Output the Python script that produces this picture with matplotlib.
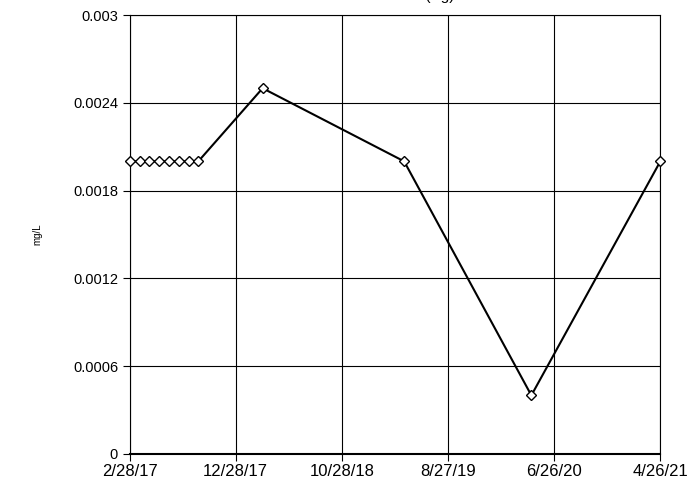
import matplotlib
matplotlib.use("Agg")
import matplotlib.pyplot as plt
from datetime import datetime as dt

plt.rcParams['font.family'] = ['Liberation Sans', 'DejaVu Sans']

# sample dates and results
dates = ["2017-02-28", "2017-03-28", "2017-04-25", "2017-05-23", "2017-06-20",
         "2017-07-18", "2017-08-15", "2017-09-12", "2018-03-15", "2019-04-24",
         "2020-04-22", "2021-04-26"]
values = [0.002, 0.002, 0.002, 0.002, 0.002, 0.002, 0.002, 0.002,
          0.0025, 0.002, 0.0004, 0.002]
tick_dates = ["2017-02-28", "2017-12-28", "2018-10-28", "2019-08-27",
              "2020-06-26", "2021-04-26"]
tick_labels = ["2/28/17", "12/28/17", "10/28/18", "8/27/19", "6/26/20", "4/26/21"]
y_ticks = [0, 0.0006, 0.0012, 0.0018, 0.0024, 0.003]
y_labels = ["0", "0.0006", "0.0012", "0.0018", "0.0024", "0.003"]

x = [dt.strptime(d, "%Y-%m-%d") for d in dates]
xt = [dt.strptime(d, "%Y-%m-%d") for d in tick_dates]

fig = plt.figure(figsize=(6.98, 4.87), dpi=100)
ax = fig.add_axes([0.186, 0.068, 0.76, 0.901])

ax.plot(x, values, color="black", linewidth=1.5, marker="D", markersize=5.5,
        markerfacecolor="white", markeredgecolor="black", markeredgewidth=1,
        clip_on=False, zorder=3)

ax.set_xlim(xt[0], xt[-1])
ax.set_ylim(0, 0.003)
ax.set_xticks(xt)
ax.set_xticklabels(tick_labels)
ax.set_yticks(y_ticks)
ax.set_yticklabels(y_labels)
ax.grid(True, color="black", linewidth=0.8)
ax.set_axisbelow(True)
for s in ax.spines.values():
    s.set_linewidth(0.8)
ax.spines['bottom'].set_linewidth(1.5)
ax.tick_params(axis='both', direction='out', length=5, width=0.8)
ax.tick_params(axis='y', labelsize=10.5)
ax.tick_params(axis='x', labelsize=12, pad=2)

ax.set_ylabel("mg/L", fontsize=7)
ax.yaxis.set_label_coords(-0.165, 0.5)

# title sits mostly above the visible canvas
fig.text(0.6, 1.0, "Silver (Ag)", ha="center", va="baseline", fontsize=11)

fig.savefig("out.png", dpi=100)
